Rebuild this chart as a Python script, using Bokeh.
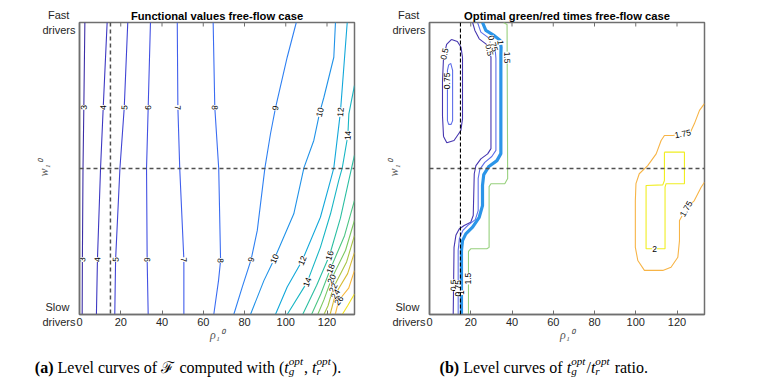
import math
from bokeh.plotting import figure
from bokeh.layouts import row, column
from bokeh.models import Range1d, FixedTicker, Span
from bokeh.core.properties import value
from bokeh.embed import file_html
from bokeh.resources import INLINE

# ---------------- data ----------------
X_MAX = 133.33
X_TICKS = [0, 20, 40, 60, 80, 100, 120]
Y_TICKS = [0, 1]
Y_TICK_TEXT = {0: "Slow\u00a0\u00a0\ndrivers", 1: "Fast\u00a0\u00a0\ndrivers"}
RHO_REF = 15      # vertical dashed reference (rho_1^0)
W_REF = 0.5       # horizontal dashed reference (w_1^0)

TITLE_A = "Functional values free-flow case"
TITLE_B = "Optimal green/red times free-flow case"
X_LABEL = "\u03c1\u2081\u2070"
Y_LABEL = "w\u2081\u2070"

# (a) level curves of the functional
A_LEVELS = [3, 4, 5, 6, 7, 8, 9, 10, 12, 14, 16, 18, 20, 22, 24, 26, 28]
A_X = [
    [2.6, 2.1, 1.7, 1.4, 1.3],
    [13.4, 11.5, 10.2, 8.7, 8.2],
    [23.4, 21.7, 19.6, 17.5, 17.1],
    [34.4, 33.3, 32.5, 32.8, 33.3],
    [47.4, 47.7, 48.6, 50.6, 50.6],
    [64.8, 65.6, 67.5, 68.4, 67.4, 65.1],
    [105.1, 100.7, 95.0, 92.6, 89.9, 86.2, 83.2, 78.9, 74.8],
    [124.1, 123.3, 118.5, 116.5, 113.6, 108.8, 103.9, 94.5, 89.4, 82.9],
    [129.8, 126.5, 123.3, 121.7, 116.8, 108.0, 100.7, 95.0],
    [133.3, 130.6, 130.1, 127.4, 125.7, 121.7, 116.8, 110.4, 100.7],
    [133.3, 130.9, 126.5, 121.2, 115.0, 108.2],
    [133.3, 128.5, 121.7, 117.0, 112.5],
    [133.3, 129.0, 122.2, 118.5, 115.5],
    [133.3, 129.5, 123.0, 120.5, 118.5],
    [133.3, 130.0, 124.1, 121.5],
    [133.3, 130.5, 125.7, 124.0],
    [133.3, 130.0, 127.4],
]
A_Y = [
    [1.0, 0.709, 0.5, 0.188, 0.0],
    [1.0, 0.709, 0.5, 0.188, 0.0],
    [1.0, 0.709, 0.5, 0.188, 0.0],
    [1.0, 0.709, 0.5, 0.188, 0.0],
    [1.0, 0.709, 0.5, 0.188, 0.0],
    [1.0, 0.709, 0.5, 0.185, 0.116, 0.0],
    [1.0, 0.881, 0.707, 0.619, 0.502, 0.288, 0.188, 0.094, 0.0],
    [1.0, 0.881, 0.744, 0.693, 0.596, 0.502, 0.345, 0.191, 0.116, 0.0],
    [1.0, 0.693, 0.502, 0.459, 0.333, 0.185, 0.094, 0.0],
    [0.784, 0.687, 0.613, 0.502, 0.459, 0.345, 0.230, 0.111, 0.0],
    [0.545, 0.47, 0.33, 0.202, 0.10, 0.0],
    [0.39, 0.27, 0.157, 0.07, 0.0],
    [0.322, 0.22, 0.122, 0.05, 0.0],
    [0.27, 0.18, 0.091, 0.03, 0.0],
    [0.212, 0.14, 0.07, 0.0],
    [0.15, 0.09, 0.048, 0.0],
    [0.07, 0.03, 0.0],
]
# where the level values are written on the curves (level, w)
A_LABELS = [(3, 0.709), (4, 0.709), (5, 0.709), (6, 0.709), (7, 0.709), (8, 0.709),
            (9, 0.707), (10, 0.693), (12, 0.693), (14, 0.613),
            (3, 0.188), (4, 0.188), (5, 0.188), (6, 0.188), (7, 0.188), (8, 0.185),
            (9, 0.188), (10, 0.191), (12, 0.185), (14, 0.111), (16, 0.202),
            (18, 0.157), (20, 0.122), (22, 0.091), (24, 0.07), (26, 0.048)]

# (b) level curves of the ratio t_g/t_r
B_LEVEL = [0.5, 0.75, 0.5, 0.75, 1.0, 1.5, 1.75, 2.0]
B_X = [
    [10.7, 13.5, 15.3, 16.0, 16.0, 15.2, 11.9, 8.4, 6.8, 6.3, 6.3, 6.8, 8.3, 10.7],
    [10.3, 11.2, 11.2, 10.5, 9.3, 8.7, 8.7, 9.3, 10.3],
    [20.9, 22.0, 24.1, 27.3, 28.9, 29.8, 29.8, 28.2, 24.9, 22.5, 21.7, 21.2, 20.0, 16.8, 14.4, 12.8, 11.9, 11.5],
    [23.3, 24.9, 28.2, 30.6, 31.9, 32.2, 32.2, 30.2, 26.8, 24.4, 23.6, 23.6, 22.2, 18.6, 16.2, 14.5, 13.9, 13.9],
    [25.7, 27.3, 31.4, 34.3, 34.7, 34.6, 34.6, 32.7, 28.8, 26.3, 25.7, 25.7, 24.1, 20.9, 17.6, 16.0, 15.5, 15.5],
    [35.9, 37.6, 37.9, 36.5, 29.8, 28.9, 28.9, 27.8, 20.0, 18.9, 18.9],
    [133.3, 130.9, 128.4, 126.5, 122.8, 118.0, 113.9, 112.3, 109.9, 105.8, 101.7, 100.1, 99.8, 99.8,
     101.0, 104.2, 113.1, 117.1, 120.4, 121.2, 121.2, 124.4, 128.4, 131.7, 133.3],
    [113.9, 123.6, 123.6, 114.7, 114.2, 114.2, 105.0, 105.0, 113.1, 113.9, 113.9],
]
B_Y = [
    [0.942, 0.935, 0.915, 0.88, 0.67, 0.63, 0.596, 0.588, 0.61, 0.68, 0.80, 0.88, 0.925, 0.942],
    [0.86, 0.836, 0.664, 0.651, 0.651, 0.664, 0.836, 0.855, 0.86],
    [1.0, 0.973, 0.944, 0.927, 0.910, 0.881, 0.568, 0.550, 0.533, 0.510, 0.482, 0.339, 0.316, 0.305, 0.293, 0.271, 0.230, 0.0],
    [1.0, 0.967, 0.95, 0.933, 0.904, 0.877, 0.562, 0.541, 0.521, 0.497, 0.466, 0.356, 0.325, 0.305, 0.288, 0.260, 0.219, 0.0],
    [1.0, 0.973, 0.955, 0.938, 0.915, 0.887, 0.551, 0.527, 0.507, 0.479, 0.442, 0.373, 0.333, 0.299, 0.276, 0.253, 0.219, 0.0],
    [1.0, 0.993, 0.466, 0.448, 0.448, 0.438, 0.230, 0.225, 0.225, 0.216, 0.0],
    [0.722, 0.699, 0.653, 0.624, 0.619, 0.613, 0.613, 0.596, 0.550, 0.510, 0.482, 0.448, 0.390, 0.230,
     0.185, 0.151, 0.151, 0.162, 0.196, 0.253, 0.322, 0.362, 0.390, 0.436, 0.453],
    [0.556, 0.556, 0.448, 0.448, 0.436, 0.225, 0.225, 0.442, 0.444, 0.459, 0.556],
]
# labels: (curve index, approx rho, approx w)
B_LABELS = [(0, 7.0, 0.893), (1, 8.7, 0.80), (2, 28.0, 0.904), (3, 29.5, 0.925), (4, 32.5, 0.93),
            (5, 38.0, 0.88), (2, 11.5, 0.10), (3, 13.9, 0.09), (4, 15.5, 0.075), (5, 18.9, 0.123),
            (6, 122.8, 0.619), (6, 124.4, 0.362), (7, 109.1, 0.225)]

# ---------------- style ----------------
A_COLORS = ["#3c2ea6", "#3d38c2", "#4044d4", "#4250e2", "#405eec", "#3a6cf2", "#2f80f2", "#2092e8",
            "#13a8da", "#18b6c4", "#2cbfa2", "#4cc583", "#7ac860", "#a8c446", "#d8bb36", "#f8b83c", "#f2e11e"]
B_COLORS = ["#4636b0", "#5f6ee8", "#4636b0", "#5f6ee8", "#2b95e8", "#96d07c", "#f7b446", "#f0ee22"]
B_WIDTHS = [1.1, 1.1, 1.1, 1.1, 3.2, 1.1, 1.1, 1.1]
AXIS_COLOR = "#6f6f6f"
FW, FH = 275, 292
PANEL_H = 346
SX, SY = FW / X_MAX, float(FH)


def seg_angle(x1, y1, x2, y2):
    a = math.atan2((y2 - y1) * SY, (x2 - x1) * SX)
    if a > math.pi / 2 + 1e-9:
        a -= math.pi
    if a <= -math.pi / 2 + 1e-9:
        a += math.pi
    return a


def at_y(xs, ys, y0):
    for i in range(len(xs) - 1):
        if (ys[i] - y0) * (ys[i + 1] - y0) <= 0 and ys[i] != ys[i + 1]:
            t = (y0 - ys[i]) / (ys[i + 1] - ys[i])
            return xs[i] + t * (xs[i + 1] - xs[i]), y0, seg_angle(xs[i], ys[i], xs[i + 1], ys[i + 1])
    return xs[-1], ys[-1], 0.0


def snap(xs, ys, x0, y0):
    best = None
    for i in range(len(xs) - 1):
        ax, ay = xs[i] * SX, ys[i] * SY
        bx, by = xs[i + 1] * SX, ys[i + 1] * SY
        px, py = x0 * SX, y0 * SY
        dx, dy = bx - ax, by - ay
        L = dx * dx + dy * dy
        t = 0 if L == 0 else max(0, min(1, ((px - ax) * dx + (py - ay) * dy) / L))
        qx, qy = ax + t * dx, ay + t * dy
        d = (qx - px) ** 2 + (qy - py) ** 2
        if best is None or d < best[0]:
            best = (d, qx / SX, qy / SY, seg_angle(xs[i], ys[i], xs[i + 1], ys[i + 1]))
    return best[1], best[2], best[3]


def make_fig(bl, br, title):
    p = figure(frame_width=FW, frame_height=FH, x_range=Range1d(0, X_MAX), y_range=Range1d(0, 1),
               min_border_left=bl, min_border_right=br, min_border_top=22,
               min_border_bottom=PANEL_H - 22 - FH,
               output_backend="svg", toolbar_location=None, tools="", title=title)
    p.title.align = "center"
    p.title.text_font = "Liberation Sans"
    p.title.text_font_size = "11.2px"
    p.title.text_font_style = "bold"
    p.title.text_color = "black"
    p.title.standoff = 1
    p.title.offset = 0
    p.xgrid.visible = False
    p.ygrid.visible = False
    p.background_fill_color = "white"
    p.border_fill_color = "white"
    p.outline_line_color = AXIS_COLOR
    p.outline_line_width = 1.5
    xa = p.xaxis[0]
    xa.ticker = FixedTicker(ticks=X_TICKS)
    xa.major_tick_in = 4
    xa.major_tick_out = 0
    xa.minor_tick_line_color = None
    xa.axis_line_color = AXIS_COLOR
    xa.axis_line_width = 1.5
    xa.major_tick_line_color = AXIS_COLOR
    xa.major_label_text_font = "Liberation Sans"
    xa.major_label_text_font_size = "11px"
    xa.major_label_text_color = "#262626"
    xa.major_label_standoff = 3
    xa.axis_label = X_LABEL
    xa.axis_label_text_font = "Liberation Serif"
    xa.axis_label_text_font_style = "italic"
    xa.axis_label_text_font_size = "12px"
    xa.axis_label_text_color = "#555555"
    xa.axis_label_standoff = -1
    ya = p.yaxis[0]
    ya.ticker = FixedTicker(ticks=Y_TICKS)
    ya.major_label_overrides = Y_TICK_TEXT
    ya.major_label_text_font = "Liberation Sans"
    ya.major_label_text_font_size = "11px"
    ya.major_label_text_color = "#262626"
    ya.major_label_standoff = 4
    ya.major_tick_in = 4
    ya.major_tick_out = 0
    ya.minor_tick_line_color = None
    ya.axis_line_color = AXIS_COLOR
    ya.axis_line_width = 1.5
    ya.major_tick_line_color = AXIS_COLOR
    ya.axis_label = Y_LABEL
    ya.axis_label_text_font = "Liberation Serif"
    ya.axis_label_text_font_style = "italic"
    ya.axis_label_text_font_size = "12px"
    ya.axis_label_text_color = "#555555"
    ya.axis_label_standoff = -12
    # mirrored tick marks on the top edge of the box
    n = len(X_TICKS)
    p.segment(x0=X_TICKS, y0=[1.0] * n, x1=X_TICKS, y1=[1.0 - 4.0 / FH] * n,
              line_color=AXIS_COLOR, line_width=1)
    p.add_layout(Span(location=W_REF, dimension="width", line_color="#505050",
                      line_width=1.5, line_dash="4 3"))
    return p


def contour_labels(p, xs, ys, texts, angles):
    p.text(x=xs, y=ys, text=texts, angle=angles, text_align="center", text_baseline="middle",
           text_font=value("Liberation Sans"), text_font_size="8.5px", text_color="black",
           background_fill_color="white")


# ---------------- panel (a) ----------------
pa = make_fig(79, 16, TITLE_A)
for lev, xs, ys, c in zip(A_LEVELS, A_X, A_Y, A_COLORS):
    pa.line(xs, ys, line_color=c, line_width=1.1)
lx, ly, lt, la = [], [], [], []
for lev, yv in A_LABELS:
    i = A_LEVELS.index(lev)
    x, y, a = at_y(A_X[i], A_Y[i], yv)
    lx.append(x); ly.append(y); lt.append("%g" % lev); la.append(a)
contour_labels(pa, lx, ly, lt, la)
pa.add_layout(Span(location=RHO_REF, dimension="height", line_color="#505050",
                   line_width=1.5, line_dash="4 3"))

# ---------------- panel (b) ----------------
pb = make_fig(59, 57, TITLE_B)
for k, (xs, ys) in enumerate(zip(B_X, B_Y)):
    pb.line(xs, ys, line_color=B_COLORS[k], line_width=B_WIDTHS[k])
lx, ly, lt, la = [], [], [], []
for k, x0, y0 in B_LABELS:
    x, y, a = snap(B_X[k], B_Y[k], x0, y0)
    lx.append(x); ly.append(y); lt.append("%g" % B_LEVEL[k]); la.append(a)
contour_labels(pb, lx, ly, lt, la)
pb.add_layout(Span(location=RHO_REF, dimension="height", line_color="black",
                   line_width=1.1, line_dash="4 2"))

# ---------------- captions strip ----------------
CAP_H = 380 - PANEL_H
pc = figure(width=761, height=CAP_H, x_range=Range1d(0, 761), y_range=Range1d(CAP_H, 0),
            min_border=0, x_axis_type=None, y_axis_type=None, output_backend="svg",
            toolbar_location=None, tools="")
pc.outline_line_color = None
pc.xgrid.visible = False
pc.ygrid.visible = False
pc.background_fill_color = "white"
pc.border_fill_color = "white"

W_REG = {" ": 250, "(": 333, ")": 333, ".": 250, ",": 250, "/": 278, "L": 611, "a": 444, "c": 444,
         "d": 500, "e": 444, "f": 333, "h": 500, "i": 278, "l": 278, "m": 778, "o": 500, "p": 500,
         "r": 333, "s": 389, "t": 278, "u": 500, "v": 500, "w": 722, "g": 500, "\u2131": 900}
W_BOLD = {"(": 333, ")": 333, "a": 500, "b": 556}
W_IT = {"t": 278, "o": 500, "p": 500, "g": 500, "r": 389}


def text_w(s, style, size):
    tab = W_BOLD if style == "bold" else (W_IT if style == "italic" else W_REG)
    return sum(tab.get(c, W_REG.get(c, 500)) for c in s) * size / 1000.0


def put(x, y, s, style, size):
    lead = len(s) - len(s.lstrip(" "))
    x += lead * 0.25 * size
    s = s.strip(" ")
    if s:
        pc.text(x=[x], y=[y], text=[s], text_align="left", text_baseline="alphabetic",
                text_font=value("Liberation Serif"), text_font_style=style,
                text_font_size="%.1fpx" % size, text_color="black")


def caption(center, baseline, pieces, size=16):
    small = size * 0.7
    total = 0
    for pc_ in pieces:
        if pc_[0] == "SS":
            total += max(text_w(pc_[1], "italic", small), text_w(pc_[2], "italic", small)) + 1
        else:
            total += text_w(pc_[0], pc_[1], size)
    x = center - total / 2
    for pc_ in pieces:
        if pc_[0] == "SS":
            put(x, baseline - 7, pc_[1], "italic", small)
            put(x, baseline + 3, pc_[2], "italic", small)
            x += max(text_w(pc_[1], "italic", small), text_w(pc_[2], "italic", small)) + 1
        else:
            put(x, baseline, pc_[0], pc_[1], size)
            x += text_w(pc_[0], pc_[1], size)


BASE = 367 - PANEL_H
caption(187.5, BASE,
        [("(a)", "bold"), (" Level curves of ", "normal"), ("\u2131", "normal"),
         (" computed with (", "normal"), ("t", "italic"), ("SS", "opt", "g"), (", ", "normal"),
         ("t", "italic"), ("SS", "opt", "r"), (").", "normal")])
caption(543.3, BASE,
        [("(b)", "bold"), (" Level curves of ", "normal"), ("t", "italic"), ("SS", "opt", "g"),
         ("/", "normal"), ("t", "italic"), ("SS", "opt", "r"), (" ratio.", "normal")])

layout = column(row(pa, pb), pc)
open("out.html", "w").write(file_html(layout, INLINE))
